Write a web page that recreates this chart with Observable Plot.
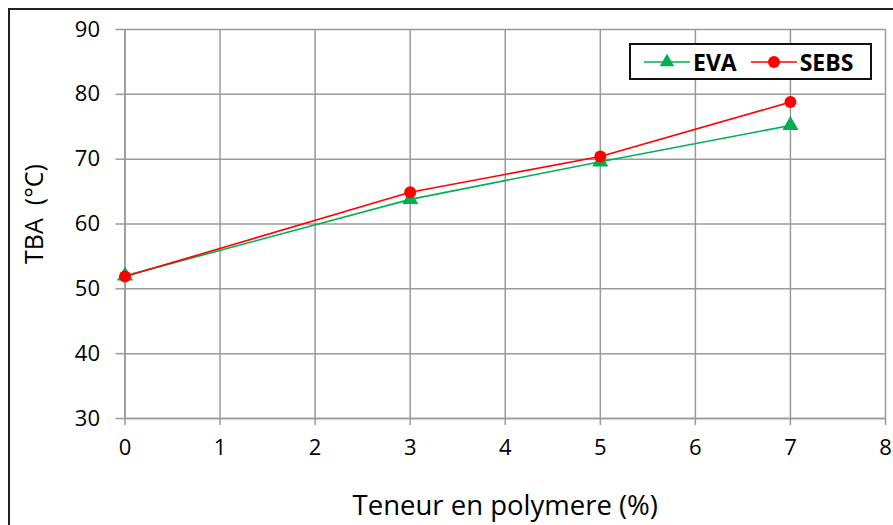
<!DOCTYPE html>
<html>
<head>
<meta charset="utf-8">
<script src="https://cdn.jsdelivr.net/npm/d3@7"></script>
<script src="https://cdn.jsdelivr.net/npm/@observablehq/plot@0.6"></script>
<style>
  html, body { margin: 0; padding: 0; background: #fff; overflow: hidden; }
  #wrap { position: relative; width: 893px; height: 525px; overflow: hidden; font-family: "Open Sans", sans-serif; }
  #border { position: absolute; left: 8px; top: 8px; width: 1000px; height: 1000px; border: 2px solid #222; box-sizing: border-box; pointer-events: none; }
  #legend { position: absolute; left: 629px; top: 43px; width: 243px; height: 37px; border: 2px solid #111; box-sizing: border-box; background: #fff;
            display: flex; align-items: center; font-weight: bold; font-size: 23px; color: #000; }
  #legend .item { display: flex; align-items: center; }
  #legend svg { display: block; }
</style>
</head>
<body>
<div id="wrap">
  <div id="chart"></div>
  <div id="border"></div>
  <div id="legend"></div>
</div>
<script>
// Polymer content (%) and softening point TBA (°C)
const teneur = [0, 3, 5, 7];
const tbaEVA = [52.0, 63.8, 69.6, 75.2];
const tbaSEBS = [51.9, 64.9, 70.4, 78.8];
const seriesNames = ["EVA", "SEBS"];
const seriesColors = ["#00B050", "#FF0000"];
const xTicks = [0, 1, 2, 3, 4, 5, 6, 7, 8];
const yTicks = [30, 40, 50, 60, 70, 80, 90];

const rows = [
  ...teneur.map((t, i) => ({serie: "EVA", x: t, y: tbaEVA[i]})),
  ...teneur.map((t, i) => ({serie: "SEBS", x: t, y: tbaSEBS[i]}))
];
const eva = rows.filter(d => d.serie === "EVA");
const sebs = rows.filter(d => d.serie === "SEBS");

const font = "'Open Sans', sans-serif";
const chart = Plot.plot({
  width: 893,
  height: 525,
  marginLeft: 124.5,
  marginRight: 8,
  marginTop: 29,
  marginBottom: 107,
  style: {fontFamily: font, fontSize: "22px", background: "transparent", overflow: "visible"},
  x: {domain: [0, 8], ticks: xTicks},
  y: {domain: [30, 90], ticks: yTicks},
  marks: [
    Plot.gridX(xTicks, {stroke: "#9a9a9a", strokeOpacity: 1, strokeWidth: 1.5}),
    Plot.gridY(yTicks, {stroke: "#9a9a9a", strokeOpacity: 1, strokeWidth: 1.5}),
    Plot.axisX(xTicks, {label: null, tickSize: 7, tickPadding: 14, fontSize: 22, stroke: "#9a9a9a", strokeWidth: 1.5, fill: "#000", tickFormat: d => d}),
    Plot.axisY(yTicks, {label: null, tickSize: 9, tickPadding: 16, fontSize: 22, stroke: "#9a9a9a", strokeWidth: 1.5, fill: "#000", tickFormat: d => d}),
    Plot.ruleY([30], {stroke: "#9a9a9a", strokeWidth: 1.5}),
    Plot.ruleX([0], {stroke: "#9a9a9a", strokeWidth: 1.5}),
    Plot.line(eva, {x: "x", y: "y", stroke: seriesColors[0], strokeWidth: 1.6}),
    Plot.line(sebs, {x: "x", y: "y", stroke: seriesColors[1], strokeWidth: 1.6}),
    Plot.dot(eva, {x: "x", y: "y", symbol: "triangle", r: 6, fill: seriesColors[0], stroke: "none"}),
    Plot.dot(sebs, {x: "x", y: "y", symbol: "circle", r: 6, fill: seriesColors[1], stroke: "none"}),
    Plot.text(["TBA  (°C)"], {frameAnchor: "left", textAnchor: "middle", lineAnchor: "middle", dx: -90, dy: -10, rotate: -90, fontSize: 25, fill: "#000", text: d => d}),
    Plot.text(["Teneur en polymere (%)"], {frameAnchor: "bottom", lineAnchor: "middle", dy: 88, fontSize: 27.5, fill: "#000", text: d => d})
  ]
});
document.getElementById("chart").appendChild(chart);

// Legend: line + marker swatches followed by bold series names
const legend = d3.select("#legend");
seriesNames.forEach((name, i) => {
  const item = legend.append("div").attr("class", "item")
    .style("margin-left", i === 0 ? "13px" : "14px");
  const sw = item.append("svg").attr("width", 48).attr("height", 20);
  sw.append("line").attr("x1", 0).attr("x2", 46).attr("y1", 10).attr("y2", 10)
    .attr("stroke", seriesColors[i]).attr("stroke-width", 1.6);
  if (i === 0) {
    sw.append("path").attr("d", d3.symbol(d3.symbolTriangle, 90)()).attr("transform", "translate(23,10)").attr("fill", seriesColors[i]);
  } else {
    sw.append("circle").attr("cx", 23).attr("cy", 10).attr("r", 6).attr("fill", seriesColors[i]);
  }
  item.append("span").text(name).style("margin-left", "1px");
});
</script>
</body>
</html>
